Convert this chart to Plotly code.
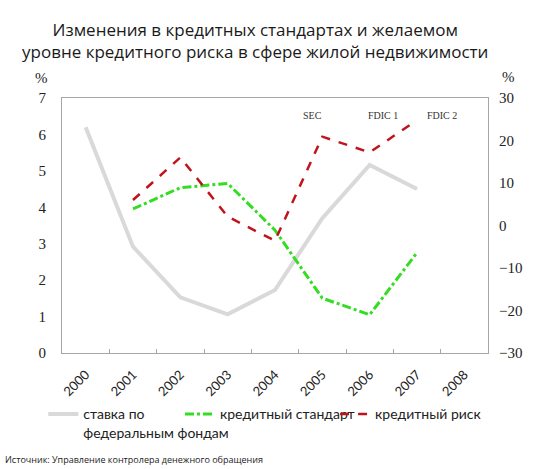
import plotly.graph_objects as go

years = ["2000", "2001", "2002", "2003", "2004", "2005", "2006", "2007", "2008"]

# left axis, %
fed_rate = [6.2, 2.92, 1.53, 1.06, 1.73, 3.7, 5.16, 4.5, None]
# right axis, %
credit_standard = [None, 3.9, 8.9, 9.9, -1.1, -17.1, -21.0, -6.4, None]
credit_risk = [None, 6.0, 16.0, 2.1, -3.6, 20.9, 17.2, 24.8, None]

event_years = ["2004", "2006", "2007"]
event_labels = ["SEC", "FDIC 1", "FDIC 2"]

serif = "Liberation Serif"
sans = "Open Sans"

fig = go.Figure()

fig.add_trace(go.Scatter(
    x=years, y=fed_rate, name="ставка по<br>федеральным фондам",
    mode="lines", line=dict(color="#d9d9d9", width=4),
    legend="legend", showlegend=True,
))
fig.add_trace(go.Scatter(
    x=years, y=credit_standard, name="кредитный стандарт",
    mode="lines", line=dict(color="#33dd22", width=3, dash="dashdot"),
    yaxis="y2", legend="legend2", showlegend=True,
))
fig.add_trace(go.Scatter(
    x=years, y=credit_risk, name="кредитный риск",
    mode="lines", line=dict(color="#c0141c", width=2.5, dash="dash"),
    yaxis="y2", legend="legend3", showlegend=True,
))

# thin vertical event lines
shapes = []
for yr in event_years:
    shapes.append(dict(type="line", xref="x", yref="paper", x0=yr, x1=yr,
                       y0=0, y1=1, line=dict(color="#d0d0d0", width=1)))

# label positions in category units
label_x = [4.8, 6.28, 7.53]
annotations = []
for lx, txt in zip(label_x, event_labels):
    annotations.append(dict(x=lx, y=0.96, xref="x", yref="paper", text=txt,
                            showarrow=False, font=dict(family=serif, size=10, color="#333")))

annotations += [
    dict(x=-0.047, y=1.078, xref="paper", yref="paper", text="%", showarrow=False,
         xanchor="center", yanchor="middle", font=dict(family=serif, size=15, color="#222")),
    dict(x=1.047, y=1.082, xref="paper", yref="paper", text="%", showarrow=False,
         xanchor="center", yanchor="middle", font=dict(family=serif, size=15, color="#222")),
    dict(x=-0.1385, y=-0.385, xref="paper", yref="paper", xanchor="left", yanchor="top",
         text="Источник: Управление контролера денежного обращения", showarrow=False,
         font=dict(family=sans, size=9, color="#222")),
]

legend_common = dict(orientation="h", yanchor="top", xanchor="left", y=-0.178,
                     font=dict(family="Lato", size=14, color="#222"), valign="top",
                     itemwidth=30, bgcolor="rgba(0,0,0,0)")

fig.update_layout(
    width=550, height=469,
    margin=dict(l=62, r=62, t=98, b=116),
    paper_bgcolor="white", plot_bgcolor="white",
    showlegend=True, hovermode=False,
    title=dict(
        text="Изменения в кредитных стандартах и желаемом<br>уровне кредитного риска в сфере жилой недвижимости",
        x=0.464, xanchor="center", y=0.923, yanchor="top",
        font=dict(family=sans, size=17, color="#1a1a1a"),
    ),
    xaxis=dict(
        type="category", categoryorder="array", categoryarray=years,
        range=[-0.5, 8.5], tickangle=-45, tickson="boundaries",
        ticks="inside", ticklen=4, tickcolor="#a6a6a6",
        showline=True, linecolor="#a6a6a6", linewidth=1, mirror=True,
        showgrid=False, ticklabelstandoff=8,
        tickfont=dict(family="Lato", size=13, color="#222"),
    ),
    yaxis=dict(
        range=[0, 7], dtick=1, showgrid=False, zeroline=False,
        showline=True, linecolor="#a6a6a6", linewidth=1, mirror=True,
        ticks="", ticklabelstandoff=12,
        tickfont=dict(family=serif, size=15, color="#222"),
    ),
    yaxis2=dict(
        range=[-30, 30], dtick=10, overlaying="y", side="right",
        showgrid=False, zeroline=False, ticks="", ticklabelstandoff=10,
        tickfont=dict(family=serif, size=15, color="#222"),
    ),
    shapes=shapes,
    annotations=annotations,
    legend=dict(legend_common, x=-0.044),
    legend2=dict(legend_common, x=0.277),
    legend3=dict(legend_common, x=0.641),
)

# drop the default 8px page margin so the figure sits at the window origin
fig.write_html("out.html", config={"displayModeBar": False},
               post_script="document.body.style.margin='0px';")
